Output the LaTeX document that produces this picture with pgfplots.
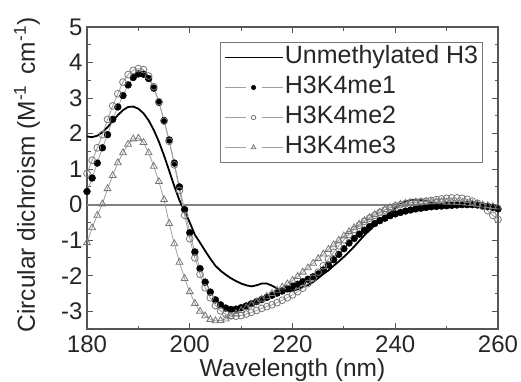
\documentclass[border=0pt]{standalone}
\usepackage{fontspec}
\setmainfont{Liberation Sans}
\usepackage{pgfplots}
\pgfplotsset{compat=1.18}
\usepackage{pgfplotstable}

\pgfplotstableread{
x un me1 me2 me3
180 1.92 0.37 0.88 -1.07
181 1.90 0.75 1.25 -0.65
182 1.94 1.17 1.60 -0.30
183 2.04 1.60 1.97 0.02
184 2.18 1.97 2.40 0.45
185 2.35 2.40 2.78 0.82
186 2.52 2.75 3.12 1.18
187 2.66 3.07 3.45 1.46
188 2.75 3.37 3.66 1.70
189 2.76 3.58 3.78 1.85
190 2.70 3.68 3.83 1.87
191 2.57 3.67 3.80 1.75
192 2.37 3.55 3.62 1.46
193 2.10 3.28 3.32 1.08
194 1.77 2.88 2.90 0.65
195 1.38 2.37 2.35 0.14
196 0.95 1.82 1.78 -0.53
197 0.52 1.17 1.12 -1.10
198 0.12 0.50 0.40 -1.62
199 -0.18 -0.14 -0.30 -2.08
200 -0.50 -0.79 -0.96 -2.45
201 -0.85 -1.33 -1.50 -2.78
202 -1.07 -1.80 -1.96 -3.00
203 -1.30 -2.18 -2.34 -3.13
204 -1.52 -2.46 -2.62 -3.23
205 -1.72 -2.68 -2.84 -3.27
206 -1.86 -2.82 -2.99 -3.26
207 -1.97 -2.91 -3.08 -3.22
208 -2.07 -2.95 -3.13 -3.15
209 -2.15 -2.94 -3.14 -3.07
210 -2.22 -2.90 -3.12 -2.98
211 -2.27 -2.85 -3.08 -2.90
212 -2.30 -2.79 -3.03 -2.82
213 -2.27 -2.73 -2.98 -2.74
214 -2.22 -2.67 -2.92 -2.66
215 -2.22 -2.61 -2.87 -2.58
216 -2.28 -2.55 -2.82 -2.50
217 -2.36 -2.49 -2.76 -2.41
218 -2.42 -2.43 -2.69 -2.32
219 -2.44 -2.37 -2.62 -2.23
220 -2.43 -2.30 -2.54 -2.13
221 -2.38 -2.24 -2.45 -2.02
222 -2.32 -2.17 -2.35 -1.90
223 -2.26 -2.10 -2.22 -1.78
224 -2.18 -2.03 -2.07 -1.65
225 -2.07 -1.95 -1.90 -1.52
226 -1.95 -1.84 -1.72 -1.39
227 -1.85 -1.70 -1.53 -1.26
228 -1.72 -1.55 -1.34 -1.13
229 -1.60 -1.40 -1.16 -1.00
230 -1.47 -1.24 -0.99 -0.88
231 -1.33 -1.08 -0.84 -0.76
232 -1.18 -0.95 -0.70 -0.65
233 -1.02 -0.83 -0.58 -0.55
234 -0.86 -0.72 -0.47 -0.45
235 -0.72 -0.62 -0.38 -0.36
236 -0.58 -0.53 -0.30 -0.28
237 -0.46 -0.45 -0.22 -0.21
238 -0.35 -0.38 -0.15 -0.14
239 -0.22 -0.31 -0.09 -0.08
240 -0.09 -0.26 -0.04 -0.03
241 0.02 -0.22 0.00 0.01
242 0.09 -0.18 0.03 0.04
243 0.13 -0.15 0.05 0.06
244 0.14 -0.12 0.07 0.07
245 0.13 -0.10 0.08 0.08
246 0.10 -0.08 0.10 0.08
247 0.06 -0.06 0.12 0.08
248 0.03 -0.05 0.14 0.08
249 0.01 -0.04 0.16 0.08
250 0.00 -0.03 0.18 0.07
251 0.00 -0.02 0.19 0.07
252 0.00 -0.01 0.19 0.06
253 0.00 0.00 0.18 0.05
254 0.00 0.00 0.15 0.04
255 0.00 0.00 0.10 0.03
256 -0.02 -0.01 0.04 0.01
257 -0.04 -0.03 -0.05 -0.01
258 -0.06 -0.05 -0.17 -0.03
259 -0.08 -0.08 -0.30 -0.05
260 -0.10 -0.12 -0.42 -0.07
}\data

\definecolor{axgray}{HTML}{555555}
\definecolor{zerogray}{HTML}{808080}
\definecolor{lgray}{HTML}{A0A0A0}
\definecolor{mgray}{HTML}{777777}

\pgfplotsset{
  leglinestyle/.style={legend image code/.code={\draw[##1] (0pt,0pt) -- (58pt,0pt);}},
  legmarkstyle/.style={legend image code/.code={%
    \draw[##1, mark=none] (0pt,0pt) -- (21pt,0pt);
    \draw[##1, mark=none] (37pt,0pt) -- (58pt,0pt);
    \path[##1, mark size=#1] plot coordinates {(29pt,0pt)};}},
}

\begin{document}
\begin{tikzpicture}
\begin{axis}[
  scale only axis,
  width=411pt, height=302pt,
  at={(87pt,52pt)}, anchor=south west,
  xmin=180, xmax=260, ymin=-3.5, ymax=5,
  xtick={180,200,...,260}, ytick={-3,...,5},
  minor x tick num=1, minor y tick num=1,
  tick align=inside,
  major tick length=6pt, minor tick length=3.5pt,
  axis line style={axgray, line width=1.2pt},
  every tick/.style={axgray, line width=1pt},
  /pgf/number format/assume math mode=true,
  ticklabel style={font=\fontsize{24}{28}\selectfont, text=black!85},
  xticklabel style={yshift=-3pt},
  yticklabel style={xshift=-1pt},
  label style={font=\fontsize{24.5}{29}\selectfont, text=black!85},
  xlabel={Wavelength (nm)},
  ylabel={Circular dichroism (M\textsuperscript{-1}\, cm\textsuperscript{-1})},
  xlabel style={at={(axis description cs:0.5,0)}, anchor=north, yshift=-26pt},
  ylabel style={at={(axis description cs:0,0.5)}, anchor=center, rotate=0, yshift=60pt, xshift=3pt},
  legend style={at={(0.9635,0.95)}, anchor=north east, draw=mgray, line width=0.8pt,
    font=\fontsize{25}{29}\selectfont, inner xsep=3pt, inner ysep=2pt, row sep=4pt,
    nodes={inner sep=1.5pt, text height=17.5pt, text depth=5.5pt, text=black!85}},
  legend cell align=left,
  clip=true,
]
\addplot[zerogray, line width=1.8pt, forget plot] coordinates {(180,0) (260,0)};
\addplot[black, line width=1.8pt, leglinestyle] table[x=x,y=un]{\data};
\addlegendentry{Unmethylated H3}
\addplot[lgray, line width=0.8pt, mark=*, mark size=3.4pt,
  mark options={fill=black, draw=black, line width=0.5pt},
  legmarkstyle=2.2pt] table[x=x,y=me1]{\data};
\addlegendentry{H3K4me1}
\addplot[lgray, line width=0.8pt, mark=o, mark size=3.4pt,
  mark options={fill=white, draw=mgray, line width=0.8pt},
  legmarkstyle=2.2pt] table[x=x,y=me2]{\data};
\addlegendentry{H3K4me2}
\addplot[lgray, line width=0.8pt, mark=triangle, mark size=3.9pt,
  mark options={fill=white, draw=mgray, line width=0.8pt},
  legmarkstyle=2.6pt] table[x=x,y=me3]{\data};
\addlegendentry{H3K4me3}
\end{axis}
\pgfresetboundingbox
\path (0pt,0pt) rectangle (521pt,381pt);
\end{tikzpicture}
\end{document}
